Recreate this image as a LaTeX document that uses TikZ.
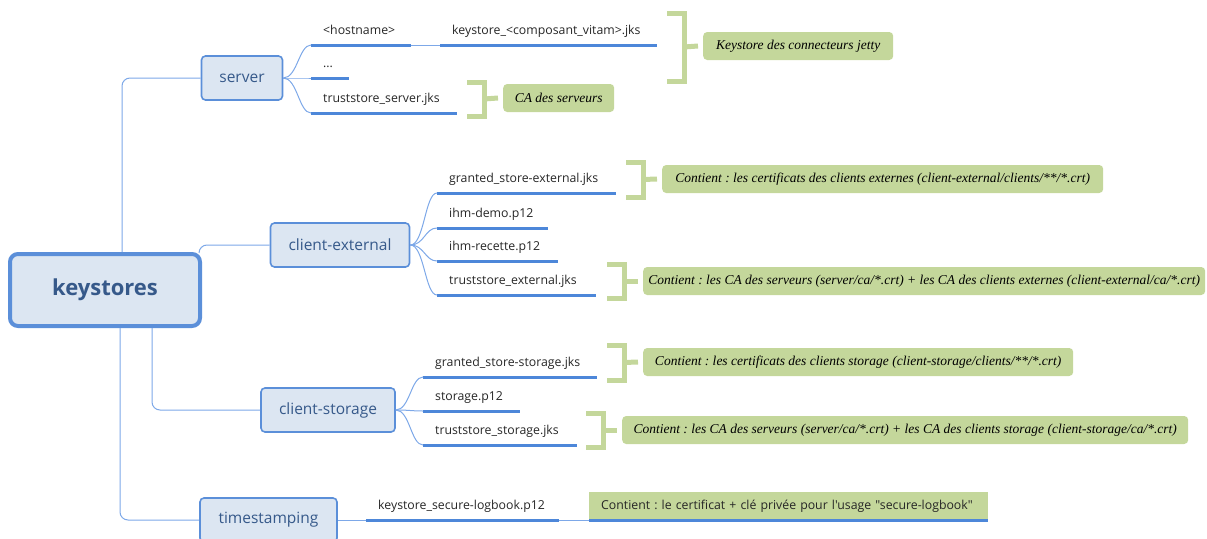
\documentclass[tikz,border=0pt]{standalone}
\usepackage{fontspec}
\setsansfont{Open Sans}[Ligatures=TeXOff]
\newfontfamily\notefont{Liberation Serif}
\usetikzlibrary{positioning}
\frenchspacing
\definecolor{boxfill}{HTML}{DCE6F2}
\definecolor{boxline}{HTML}{5B8FD9}
\definecolor{boxtext}{HTML}{36598A}
\definecolor{linkblue}{HTML}{7DA8E8}
\definecolor{ulblue}{HTML}{4D87D9}
\definecolor{notegreen}{HTML}{C4D79B}
\tikzset{
  root/.style={draw=boxline,line width=4pt,fill=boxfill,rounded corners=8pt,minimum width=190pt,minimum height=72pt,text=boxtext,font=\sffamily\bfseries\fontsize{22}{26}\selectfont},
  topic/.style={draw=boxline,line width=1.6pt,fill=boxfill,rounded corners=4pt,minimum height=44pt,text=boxtext,font=\sffamily\fontsize{15.5}{18}\selectfont},
  leaf/.style={anchor=south west,inner sep=0pt,text depth=10pt,align=left,text=black!85,font=\sffamily\fontsize{12.3}{14}\selectfont,execute at begin node={\hspace*{12pt}}},
  uline/.style={ulblue,line width=3pt},
  link/.style={linkblue,line width=1pt},
  brk/.style={notegreen,line width=5pt},
  note/.style={anchor=west,fill=notegreen,rounded corners=4pt,minimum height=28pt,inner xsep=3pt,font=\notefont\itshape\fontsize{13.5}{15}\selectfont},
}
% bracket: note, left x, bar x, top y, bottom y
\newcommand\brkt[5]{%
  \draw[brk] (#2,#4) -- (#3,#4) -- (#3,#5) -- (#2,#5);
  \draw[brk] (#3,{(#4+#5)/2}) -- ([xshift=-5pt]#1.west);}
\begin{document}
\begin{tikzpicture}[x=1pt,y=-1pt]
  \useasboundingbox (0,0) rectangle (1207,538);

  % main topics
  \node[root] (ks) at (105,290) {keystores};
  \node[topic,minimum width=81pt] (server) at (242,78) {server};
  \node[topic,minimum width=139pt] (ext) at (340,245) {client-external};
  \node[topic,minimum width=134pt] (sto) at (328,410) {client-storage};
  \node[topic,minimum width=137pt] (ts) at (268.5,520) {timestamping};

  \draw[link,rounded corners=8pt] ([xshift=17pt]ks.north) |- (server.west);
  \draw[link,rounded corners=8pt] ([xshift=-3pt,yshift=-1pt]ks.north east) |- (ext.west);
  \draw[link,rounded corners=8pt] ([xshift=47pt]ks.south) |- (sto.west);
  \draw[link,rounded corners=8pt] ([xshift=15pt]ks.south) |- (ts.west);

  % server
  \node[leaf,text width=100pt] (host) at (311,45) {<hostname>};
  \node[leaf,text width=217pt] (kcomp) at (440,45) {keystore\_<composant\_vitam>.jks};
  \node[leaf,text width=38pt] (dots) at (311,78) {...};
  \node[leaf,text width=146pt] (tsrv) at (311,113) {truststore\_server.jks};

  % client-external
  \node[leaf,text width=179pt] (gext) at (437,193) {granted\_store-external.jks};
  \node[leaf,text width=111pt] (demo) at (437,228) {ihm-demo.p12};
  \node[leaf,text width=121pt] (recette) at (437,261) {ihm-recette.p12};
  \node[leaf,text width=159pt] (text) at (437,295) {truststore\_external.jks};

  % client-storage
  \node[leaf,text width=174pt] (gsto) at (423,377) {granted\_store-storage.jks};
  \node[leaf,text width=97pt] (stop) at (423,411) {storage.p12};
  \node[leaf,text width=154pt] (tsto) at (423,445) {truststore\_storage.jks};

  % timestamping
  \node[leaf,text width=193pt] (logbook) at (366,520) {keystore\_secure-logbook.p12};
  \node[leaf,text width=399pt,text height=18pt,fill=notegreen] (cert) at (589,520) {Contient : le certificat + clé privée pour l'usage "secure-logbook"};

  \foreach \n in {host,kcomp,dots,tsrv,gext,demo,recette,text,gsto,stop,tsto,logbook,cert}
    \draw[uline] (\n.south west) -- (\n.south east);

  \foreach \p/\c in {server/host,server/dots,server/tsrv,ext/gext,ext/demo,ext/recette,ext/text,sto/gsto,sto/stop,sto/tsto}
    \draw[link] (\p.east) .. controls +(14,0) and +(-12,0) .. (\c.south west);
  \draw[link] (host.south east) -- (kcomp.south west);
  \draw[link] (ts.east) -- (logbook.south west);
  \draw[link] (logbook.south east) -- (cert.south west);

  % notes
  \node[note,minimum width=190pt] (njetty) at (703,46) {Keystore des connecteurs jetty};
  \node[note,minimum width=111pt] (nca) at (503,98) {CA des serveurs};
  \node[note,minimum width=441pt] (ngext) at (662,179) {Contient : les certificats des clients externes (client-external/clients/**/*.crt)};
  \node[note,minimum width=562pt] (ntext) at (643,281) {Contient : les CA des serveurs (server/ca/*.crt) + les CA des clients externes (client-external/ca/*.crt)};
  \node[note,minimum width=430pt] (ngsto) at (643,362) {Contient : les certificats des clients storage (client-storage/clients/**/*.crt)};
  \node[note,minimum width=566pt] (ntsto) at (622,430) {Contient : les CA des serveurs (server/ca/*.crt) + les CA des clients storage (client-storage/ca/*.crt)};

  \brkt{njetty}{667}{684}{13}{81}
  \brkt{nca}{467}{484}{82}{116}
  \brkt{ngext}{626}{643}{162}{197}
  \brkt{ntext}{607}{624}{264}{298}
  \brkt{ngsto}{607}{624}{345}{380}
  \brkt{ntsto}{586}{603}{413}{447}
\end{tikzpicture}
\end{document}
